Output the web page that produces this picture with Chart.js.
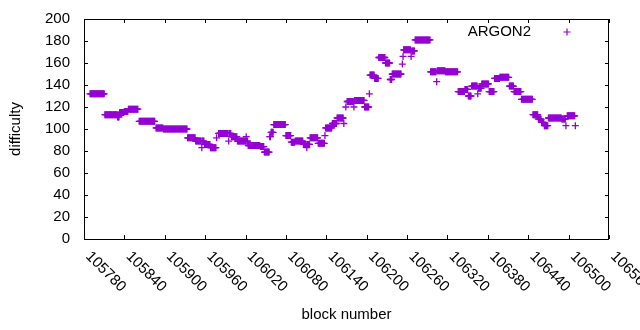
<!DOCTYPE html>
<html>
<head>
<meta charset="utf-8">
<script src="https://cdn.jsdelivr.net/npm/chart.js@4/dist/chart.umd.min.js"></script>
<style>
  html, body { margin: 0; padding: 0; background: #fff; }
  #wrap { width: 640px; height: 330px; }
</style>
</head>
<body>
<div id="wrap"><canvas id="grafico" width="640" height="330"></canvas></div>
<script>
// runs of blocks with the same difficulty
const runStart = [105789, 105811, 105830, 105833, 105840, 105846, 105862, 105887, 105898, 105934,
  105946, 105955, 105956, 105959, 105968, 105977, 105980, 105995, 105996, 105999,
  106008, 106021, 106022, 106024, 106042, 106048, 106056, 106058, 106062, 106080,
  106088, 106094, 106106, 106111, 106112, 106116, 106128, 106138, 106139, 106149,
  106156, 106166, 106169, 106171, 106181, 106182, 106197, 106204, 106205, 106212,
  106218, 106228, 106235, 106238, 106253, 106254, 106255, 106266, 106267, 106272,
  106295, 106304, 106305, 106317, 106336, 106346, 106351, 106356, 106365, 106366,
  106371, 106382, 106390, 106398, 106412, 106419, 106430, 106447, 106455, 106460,
  106464, 106470, 106490, 106496, 106498, 106510];
const runEnd = [105810, 105829, 105832, 105839, 105845, 105860, 105885, 105897, 105933, 105945,
  105954, 105955, 105958, 105967, 105976, 105977, 105994, 105995, 105998, 106007,
  106020, 106021, 106023, 106041, 106047, 106055, 106057, 106061, 106079, 106087,
  106093, 106105, 106110, 106111, 106115, 106127, 106137, 106138, 106148, 106155,
  106165, 106166, 106169, 106180, 106181, 106196, 106203, 106204, 106211, 106217,
  106227, 106234, 106237, 106251, 106253, 106254, 106265, 106266, 106271, 106294,
  106303, 106304, 106316, 106335, 106345, 106350, 106355, 106364, 106365, 106370,
  106381, 106389, 106397, 106411, 106418, 106429, 106446, 106454, 106459, 106463,
  106469, 106489, 106495, 106496, 106509, 106510];
const runValue = [132, 113, 111, 115, 116, 118, 107, 101, 100, 92,
  89, 83, 89, 86, 83, 92, 96, 89, 96, 93,
  89, 93, 89, 85, 84, 79, 93, 97, 104, 94,
  88, 89, 86, 83, 86, 92, 87, 94, 101, 105,
  110, 105, 120, 125, 120, 126, 120, 132, 149, 146,
  165, 160, 145, 150, 159, 166, 172, 166, 171, 181,
  152, 143, 153, 152, 134, 136, 130, 139, 132, 137,
  141, 134, 146, 147, 139, 134, 127, 113, 109, 106,
  103, 110, 109, 103, 112, 103];

const xMin = 105780, xMax = 106560, xStep = 60;
const yMin = 0, yMax = 200, yStep = 20;
const serieNombre = "ARGON2";
const colorSerie = "#9400d3";
const fuente = "'Liberation Sans', Arial, sans-serif";

// one point per block
const puntos = [];
runStart.forEach((ini, i) => {
  for (let b = ini; b <= runEnd[i]; b++) puntos.push({ x: b, y: runValue[i] });
});

Chart.defaults.color = "#000";
Chart.defaults.font.family = fuente;
Chart.defaults.font.size = 15;

const marcoGnuplot = {
  id: "marcoGnuplot",
  afterDraw(chart) {
    const { ctx, chartArea: a, scales } = chart;
    const sx = scales.x, sy = scales.y;
    ctx.save();
    ctx.strokeStyle = "#000";
    ctx.lineWidth = 1;
    ctx.strokeRect(Math.round(a.left) + 0.5, Math.round(a.top) + 0.5,
      Math.round(a.right - a.left) - 1, Math.round(a.bottom - a.top));
    ctx.beginPath();
    sx.ticks.forEach((t) => {
      const px = Math.round(sx.getPixelForValue(t.value)) + 0.5;
      ctx.moveTo(px, a.bottom); ctx.lineTo(px, a.bottom - 4);
      ctx.moveTo(px, a.top); ctx.lineTo(px, a.top + 4);
    });
    sy.ticks.forEach((t) => {
      const py = Math.round(sy.getPixelForValue(t.value)) + 0.5;
      ctx.moveTo(a.left, py); ctx.lineTo(a.left + 4, py);
      ctx.moveTo(a.right, py); ctx.lineTo(a.right - 4, py);
    });
    ctx.stroke();

    // x labels, rotated clockwise like gnuplot
    ctx.fillStyle = "#000";
    ctx.font = "15px " + fuente;
    ctx.textAlign = "left";
    ctx.textBaseline = "middle";
    sx.ticks.forEach((t) => {
      const px = sx.getPixelForValue(t.value);
      ctx.save();
      ctx.translate(px + 4, a.bottom + 15);
      ctx.rotate(Math.PI / 4);
      ctx.fillText(String(t.value), 0, 0);
      ctx.restore();
    });

    // legend
    ctx.textAlign = "right";
    ctx.fillText(serieNombre, 531, 32);
    ctx.strokeStyle = colorSerie;
    ctx.lineWidth = 1.2;
    ctx.beginPath();
    ctx.moveTo(563.5, 32); ctx.lineTo(570.5, 32);
    ctx.moveTo(567, 28.5); ctx.lineTo(567, 35.5);
    ctx.stroke();
    ctx.restore();
  },
};

new Chart(document.getElementById("grafico").getContext("2d"), {
  type: "scatter",
  data: {
    datasets: [
      {
        label: serieNombre,
        data: puntos,
        showLine: false,
        pointStyle: "cross",
        pointRadius: 3.5,
        borderWidth: 1.3,
        borderColor: colorSerie,
        backgroundColor: colorSerie,
      },
    ],
  },
  options: {
    responsive: false,
    animation: false,
    events: [],
    layout: { padding: { top: 19, right: 31, left: 0, bottom: 0 } },
    plugins: { legend: { display: false }, tooltip: { enabled: false } },
    scales: {
      x: {
        type: "linear",
        min: xMin,
        max: xMax,
        ticks: { stepSize: xStep, display: false },
        grid: { display: false },
        border: { display: false },
        title: { display: true, text: "block number", padding: { top: 0, bottom: 6 } },
        afterFit: (s) => { s.height = 91; },
      },
      y: {
        min: yMin,
        max: yMax,
        ticks: { stepSize: yStep, padding: 0 },
        // invisible tick marks only to keep the labels 14px off the axis
        grid: { display: true, drawOnChartArea: false, drawTicks: true, tickLength: 14, color: "rgba(0,0,0,0)" },
        border: { display: false },
        title: { display: true, text: "difficulty", padding: { top: 7, bottom: 0 } },
        afterFit: (s) => { s.width = 84; },
      },
    },
  },
  plugins: [marcoGnuplot],
});
</script>
</body>
</html>
